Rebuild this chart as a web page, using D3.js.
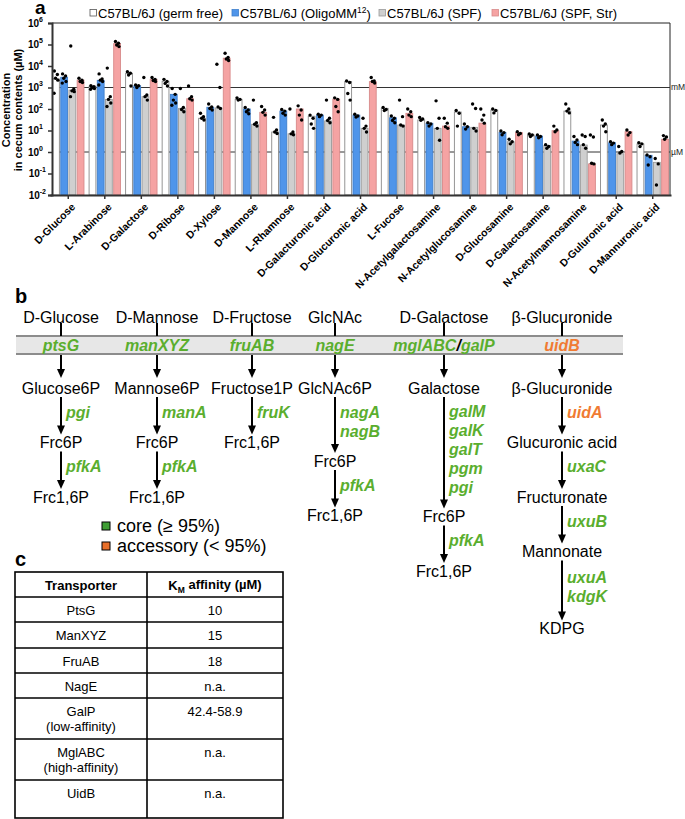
<!DOCTYPE html>
<html>
<head>
<meta charset="utf-8">
<script src="https://cdn.jsdelivr.net/npm/d3@7"></script>
<style>
  body { margin: 0; background: #fff; }
  svg { display: block; font-family: "Liberation Sans", Arial, Helvetica, sans-serif; }
</style>
</head>
<body>
<svg id="fig" width="685" height="819"></svg>
<script>
// ---- panel a data ----
var sugars = ["D-Glucose", "L-Arabinose", "D-Galactose", "D-Ribose", "D-Xylose", "D-Mannose",
    "L-Rhamnose", "D-Galacturonic acid", "D-Glucuronic acid", "L-Fucose", "N-Acetylgalactosamine",
    "N-Acetylglucosamine", "D-Glucosamine", "D-Galactosamine", "N-Acetylmannosamine",
    "D-Guluronic acid", "D-Mannuronic acid"];
var groups = ["gf", "omm", "spf", "str"];
var groupLabels = ["C57BL/6J (germ free)", "C57BL/6J (OligoMM", "C57BL/6J (SPF)", "C57BL/6J (SPF, Str)"];

// bar heights (µM)
var germFree = [2500, 1150, 4600, 1950, 37, 280, 8.5, 46, 1900, 107, 31, 72, 90, 6.2, 80, 18, 2.35];
var oligoMM  = [3000, 2150, 1200, 480, 120, 100, 80, 52, 52, 39, 21.6, 15, 8, 5.5, 3.2, 2.7, 0.7];
var spf      = [760, 280, 375, 107, 112, 19.5, 7, 28, 12.6, 18, 12.6, 14, 3, 2, 2.1, 0.83, 0.33];
var spfStr   = [2200, 110000, 2400, 300, 23000, 70, 100, 290, 1870, 63, 16, 22, 8, 9.8, 0.28, 8.8, 3.9];

// individual mice (µM)
var germFreeDots = [[5900, 4000, 2700, 2200, 540], [1200, 1100, 1000, 900, 830], [5400, 4600, 3800, 1170],
    [2400, 1900, 1550, 1170], [63, 44, 37, 31], [330, 280, 260], [41, 10.6, 8.5, 7.2], [52, 37, 20, 12.6],
    [2000, 1700, 530, 260], [118, 95, 85], [40, 34, 30], [85, 63, 16], [100, 85, 66], [6.9, 6.2, 5.3],
    [170, 100, 80, 66], [31, 20, 16, 8.8], [2.7, 2.4, 1.8]];
var oligoMMDots = [[4300, 3400, 2700, 1900, 1600], [4300, 2500, 2200, 1900, 1300], [1300, 1200, 1000],
    [900, 480, 260, 190, 150], [170, 125, 105, 90], [118, 90, 75, 60], [95, 80, 63, 52], [57, 52, 44],
    [57, 47, 42], [47, 37, 29, 23], [23, 20, 16], [20, 15, 11.6], [9.5, 8, 6.3], [6.2, 5.3, 4.6],
    [5.3, 3.6, 2.8, 2.2], [3, 2.6, 2.2], [0.72, 0.6, 0.25]];
var spfDots = [[85000, 830, 700, 640, 375], [8000, 375, 280, 190, 130], [2900, 450, 375, 260],
    [900, 118, 95, 75], [12000, 1000, 125, 105], [260, 23, 19.5, 16], [100, 8.5, 7, 6.3], [260, 37, 29, 23],
    [37, 16, 12.6, 8.5], [260, 44, 18, 16], [240, 37, 12.6, 3.5], [170, 105, 12.6, 9.5], [3.9, 3, 2.4],
    [2.2, 1.8, 1.5], [6.2, 5.3, 2.2, 1.5], [1.8, 1.06, 0.9], [0.5, 0.28, 0.029]];
var spfStrDots = [[2700, 2200, 1900, 1700], [137000, 115000, 95000, 80000], [2900, 2400, 2100, 1900],
    [1170, 375, 300, 260], [39000, 25000, 21000, 18000], [130, 90, 70, 52], [140, 90, 52, 31],
    [330, 280, 130, 75], [2900, 2000, 1900, 1600], [100, 75, 52, 44], [37, 22, 15, 12.6], [100, 52, 31, 22],
    [8.8, 7.2, 6.3], [16, 10.6, 8.8], [6.2, 5, 0.3, 0.28], [10.6, 8, 6.2], [5.8, 5, 3.9]];

var yTicks = [1e-2, 1e-1, 1e0, 1e1, 1e2, 1e3, 1e4, 1e5, 1e6];
var yTickExp = ["-2", "-1", "0", "1", "2", "3", "4", "5", "6"];
var refLines = [1e3, 1e0];
var refLabels = ["mM", "µM"];

// ---- panel b data ----
var pathHeads = ["D-Glucose", "D-Mannose", "D-Fructose", "GlcNAc", "D-Galactose", "β-Glucuronide"];
var transporterGenes = ["ptsG", "manXYZ", "fruAB", "nagE", "mglABC/galP", "uidB"];
var pathSteps = [
    [{ m: "Glucose6P" }, { g: ["pgi"], m: "Frc6P" }, { g: ["pfkA"], m: "Frc1,6P" }],
    [{ m: "Mannose6P" }, { g: ["manA"], m: "Frc6P" }, { g: ["pfkA"], m: "Frc1,6P" }],
    [{ m: "Fructose1P" }, { g: ["fruK"], m: "Frc1,6P" }],
    [{ m: "GlcNAc6P" }, { g: ["nagA", "nagB"], m: "Frc6P" }, { g: ["pfkA"], m: "Frc1,6P" }],
    [{ m: "Galactose" }, { g: ["galM", "galK", "galT", "pgm", "pgi"], m: "Frc6P" }, { g: ["pfkA"], m: "Frc1,6P" }],
    [{ m: "β-Glucuronide" }, { g: ["uidA"], m: "Glucuronic acid" }, { g: ["uxaC"], m: "Fructuronate" },
        { g: ["uxuB"], m: "Mannonate" }, { g: ["uxuA", "kdgK"], m: "KDPG" }]
];
var accessoryGenes = ["uidB", "uidA"];
var legendItems = ["core (≥ 95%)", "accessory (< 95%)"];

// ---- panel c data ----
var transporterNames = [["PtsG"], ["ManXYZ"], ["FruAB"], ["NagE"], ["GalP", "(low-affinity)"],
    ["MglABC", "(high-affinity)"], ["UidB"]];
var kmValues = ["10", "15", "18", "n.a.", "42.4-58.9", "n.a.", "n.a."];

// ---- styles ----
var barFill = { gf: "#ffffff", omm: "#4f95ea", spf: "#cfcfcf", str: "#f5a3a3" };
var barStroke = { gf: "#8a8a8a", omm: "#3f7fcc", spf: "#9a9a9a", str: "#d88a8a" };
var GREEN = "#5aae2e", ORANGE = "#f07b33";

var svg = d3.select("#fig");

// ================= panel a =================
var x0 = d3.scaleBand().domain(sugars).range([50, 671]).paddingInner(0.14).paddingOuter(0.07);
var x1 = d3.scaleBand().domain(groups).range([0, x0.bandwidth()]).paddingInner(0.17);
var y = d3.scaleLog().domain([1e-2, 1e6]).range([195, 23]);

var series = { gf: germFree, omm: oligoMM, spf: spf, str: spfStr };
var dots = { gf: germFreeDots, omm: oligoMMDots, spf: spfDots, str: spfStrDots };

var a = svg.append("g").attr("class", "panel-a");

a.append("text").attr("x", 35).attr("y", 14).attr("font-size", 19).attr("font-weight", "bold").text("a");

// frame top / right
a.append("line").attr("x1", 52).attr("x2", 670).attr("y1", y(1e6)).attr("y2", y(1e6))
    .attr("stroke", "#222").attr("stroke-width", 1);
a.append("line").attr("x1", 670).attr("x2", 670).attr("y1", y(1e6)).attr("y2", y(1e-2))
    .attr("stroke", "#222").attr("stroke-width", 1);

// mM / µM reference lines (behind bars)
refLines.forEach(function (v, i) {
    a.append("line").attr("x1", 52).attr("x2", 670).attr("y1", y(v)).attr("y2", y(v))
        .attr("stroke", "#333").attr("stroke-width", 1);
    a.append("text").attr("x", 671).attr("y", y(v)).attr("dy", "0.35em")
        .attr("font-size", 8.5).attr("fill", "#222").text(refLabels[i]);
});

// bars
var gCat = a.selectAll(".cat").data(sugars).enter().append("g")
    .attr("class", "cat").attr("transform", function (d) { return "translate(" + x0(d) + ",0)"; });

gCat.each(function (s, i) {
    var g = d3.select(this);
    groups.forEach(function (k) {
        var v = series[k][i];
        g.append("rect")
            .attr("x", x1(k)).attr("width", x1.bandwidth())
            .attr("y", y(v)).attr("height", y(1e-2) - y(v))
            .attr("fill", barFill[k]).attr("stroke", barStroke[k]).attr("stroke-width", 0.9);
    });
});

// dots on top
var jitter = [-1.6, 1.4, -0.4, 1.9, -1.9];
gCat.each(function (s, i) {
    var g = d3.select(this);
    groups.forEach(function (k) {
        var cx = x1(k) + x1.bandwidth() / 2;
        g.selectAll(".dot-" + k).data(dots[k][i]).enter().append("circle")
            .attr("cx", function (d, j) { return cx + jitter[j % jitter.length]; })
            .attr("cy", function (d) { return y(d); })
            .attr("r", 1.7).attr("fill", "#000");
    });
});

// axes
var yAxis = a.append("g").attr("transform", "translate(52,0)")
    .call(d3.axisLeft(y).tickValues(yTicks).tickSize(4).tickFormat(""));
yAxis.select(".domain").attr("stroke", "#333").attr("stroke-width", 2);
yAxis.selectAll(".tick line").attr("stroke", "#333").attr("stroke-width", 1.5);
yTicks.forEach(function (t, i) {
    var tx = a.append("text").attr("x", 43).attr("y", y(t)).attr("dy", "0.35em")
        .attr("text-anchor", "end").attr("font-size", 10).attr("font-weight", "bold");
    tx.append("tspan").text("10");
    tx.append("tspan").attr("font-size", 7).attr("dy", "-0.7em").text(yTickExp[i]);
    if (yTickExp[i].length > 1) tx.attr("x", 46);
});

var xAxis = a.append("g").attr("transform", "translate(0," + y(1e-2) + ")")
    .call(d3.axisBottom(x0).tickSize(4).tickSizeOuter(0));
xAxis.select(".domain").attr("stroke", "#333").attr("stroke-width", 2);
xAxis.selectAll(".tick line").attr("stroke", "#333").attr("stroke-width", 1.5);
xAxis.selectAll(".tick text")
    .attr("font-family", "Liberation Sans, Arial, sans-serif")
    .attr("font-size", 10.5).attr("font-weight", "bold").attr("fill", "#000")
    .attr("text-anchor", "end").attr("x", 0).attr("y", 0).attr("dy", "0.35em")
    .attr("transform", "translate(5,10) rotate(-45)");

// y label
var yl = a.append("text").attr("transform", "translate(12,110) rotate(-90)")
    .attr("text-anchor", "middle").attr("font-size", 11).attr("font-weight", "bold");
yl.append("tspan").attr("x", 0).attr("dy", "-0.2em").text("Concentration");
yl.append("tspan").attr("x", 0).attr("dy", "1.15em").text("in cecum contents (µM)");

// legend
var legX = [90, 232, 379, 492];
groups.forEach(function (k, i) {
    a.append("rect").attr("x", legX[i]).attr("y", 9.5).attr("width", 6.5).attr("height", 6.5)
        .attr("fill", barFill[k]).attr("stroke", k === "gf" ? "#555" : barStroke[k]).attr("stroke-width", 0.8);
    var t = a.append("text").attr("x", legX[i] + 8).attr("y", 13).attr("dy", "0.35em")
        .attr("font-size", 13).text(groupLabels[i]);
    if (k === "omm") {
        t.append("tspan").attr("font-size", 8.5).attr("dy", "-0.55em").text("12");
        t.append("tspan").attr("dy", "0.5em").text(")");
    }
});

// ================= panel b =================
var b = svg.append("g").attr("class", "panel-b");
b.append("text").attr("x", 15).attr("y", 303).attr("font-size", 20).attr("font-weight", "bold").text("b");

var colX = [61, 157, 252, 335, 444, 562];
var headY = 317, memTop = 336, memBot = 354, firstY = 388;

b.append("rect").attr("x", 16).attr("y", memTop).attr("width", 607).attr("height", memBot - memTop)
    .attr("fill", "#e7e7e7");
[memTop, memBot].forEach(function (yy) {
    b.append("line").attr("x1", 16).attr("x2", 623).attr("y1", yy).attr("y2", yy)
        .attr("stroke", "#8c8c8c").attr("stroke-width", 2.2);
});

function arrow(xx, y1, y2) {
    b.append("line").attr("x1", xx).attr("x2", xx).attr("y1", y1).attr("y2", y2 - 7)
        .attr("stroke", "#000").attr("stroke-width", 2);
    b.append("path").attr("d", "M" + (xx - 4) + "," + (y2 - 9) + "L" + (xx + 4) + "," + (y2 - 9) + "L" + xx + "," + y2 + "Z")
        .attr("fill", "#000");
}
function geneColor(g) { return accessoryGenes.indexOf(g) >= 0 ? ORANGE : GREEN; }

pathHeads.forEach(function (h, i) {
    var cx = colX[i];
    b.append("text").attr("x", cx).attr("y", headY).attr("dy", "0.35em").attr("text-anchor", "middle")
        .attr("font-size", 16).text(h);
    b.append("line").attr("x1", cx).attr("x2", cx).attr("y1", headY + 6).attr("y2", memTop)
        .attr("stroke", "#000").attr("stroke-width", 2);

    // transporter gene in membrane
    var tg = b.append("text").attr("x", cx).attr("y", (memTop + memBot) / 2).attr("dy", "0.35em")
        .attr("text-anchor", "middle").attr("font-size", 16).attr("font-weight", "bold").attr("font-style", "italic");
    transporterGenes[i].split("/").forEach(function (part, j) {
        if (j > 0) tg.append("tspan").attr("fill", "#000").text("/");
        tg.append("tspan").attr("fill", geneColor(part)).text(part);
    });

    arrow(cx, memBot + 1, firstY - 10);

    var yy = firstY;
    pathSteps[i].forEach(function (st, j) {
        if (j > 0) {
            var n = st.g.length;
            var ny = yy + 36 + 18.5 * n + (j === pathSteps[i].length - 1 && n > 1 && i === 5 ? 4 : 0);
            arrow(cx, yy + 9, ny - 8);
            var mid = (yy + ny) / 2 - 3;
            st.g.forEach(function (gn, q) {
                b.append("text").attr("x", cx + 5).attr("y", mid + (q - (n - 1) / 2) * 19).attr("dy", "0.35em")
                    .attr("font-size", 16).attr("font-weight", "bold").attr("font-style", "italic")
                    .attr("fill", geneColor(gn)).text(gn);
            });
            yy = ny;
        }
        b.append("text").attr("x", cx).attr("y", yy).attr("dy", "0.35em").attr("text-anchor", "middle")
            .attr("font-size", 16).text(st.m);
    });
});

// legend
var legFill = ["#3f9e34", "#e86f2a"];
legendItems.forEach(function (t, i) {
    var cy = 526 + i * 20;
    b.append("rect").attr("x", 102).attr("y", cy - 4).attr("width", 8).attr("height", 8)
        .attr("fill", legFill[i]).attr("stroke", "#000").attr("stroke-width", 1);
    b.append("text").attr("x", 117).attr("y", cy).attr("dy", "0.35em").attr("font-size", 18).text(t);
});

// ================= panel c =================
var c = svg.append("g").attr("class", "panel-c");
c.append("text").attr("x", 15).attr("y", 566).attr("font-size", 20).attr("font-weight", "bold").text("c");

var tLeft = 15, tMid = 147, tRight = 283;
var rowEdges = [572, 597, 622, 648, 673, 698, 739, 780, 818];

c.append("rect").attr("x", tLeft).attr("y", rowEdges[0]).attr("width", tRight - tLeft)
    .attr("height", rowEdges[rowEdges.length - 1] - rowEdges[0])
    .attr("fill", "none").attr("stroke", "#000").attr("stroke-width", 1.6);
rowEdges.slice(1, -1).forEach(function (ry) {
    c.append("line").attr("x1", tLeft).attr("x2", tRight).attr("y1", ry).attr("y2", ry)
        .attr("stroke", "#000").attr("stroke-width", 1.6);
});
c.append("line").attr("x1", tMid).attr("x2", tMid).attr("y1", rowEdges[0]).attr("y2", rowEdges[rowEdges.length - 1])
    .attr("stroke", "#000").attr("stroke-width", 1.6);

var c1 = (tLeft + tMid) / 2, c2 = (tMid + tRight) / 2;
c.append("text").attr("x", c1).attr("y", 585).attr("dy", "0.35em").attr("text-anchor", "middle")
    .attr("font-size", 13).attr("font-weight", "bold").text("Transporter");
var hk = c.append("text").attr("x", c2).attr("y", 585).attr("dy", "0.35em").attr("text-anchor", "middle")
    .attr("font-size", 13).attr("font-weight", "bold");
hk.append("tspan").text("K");
hk.append("tspan").attr("font-size", 8.5).attr("dy", "0.35em").text("M");
hk.append("tspan").attr("dy", "-0.25em").text(" affinity (µM)");

transporterNames.forEach(function (lines, i) {
    var top = rowEdges[i + 1];
    lines.forEach(function (ln, j) {
        c.append("text").attr("x", c1).attr("y", top + 13 + j * 15.5).attr("dy", "0.35em")
            .attr("text-anchor", "middle").attr("font-size", 13).text(ln);
    });
    c.append("text").attr("x", c2).attr("y", top + 13).attr("dy", "0.35em")
        .attr("text-anchor", "middle").attr("font-size", 13).text(kmValues[i]);
});
</script>
</body>
</html>
